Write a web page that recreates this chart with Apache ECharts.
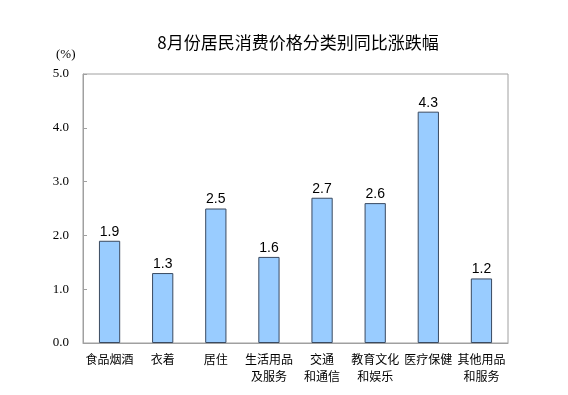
<!DOCTYPE html>
<html><head><meta charset="utf-8">
<script src="https://cdn.jsdelivr.net/npm/echarts@6/dist/echarts.min.js"></script>
<style>html,body{margin:0;padding:0;background:#fff}#c{width:568px;height:395px}</style>
</head><body><div id="c"></div>
<script>
var categories = ['食品烟酒','衣着','居住','生活用品\n及服务','交通\n和通信','教育文化\n和娱乐','医疗保健','其他用品\n和服务'];
var values = [1.9, 1.3, 2.5, 1.6, 2.7, 2.6, 4.3, 1.2];
var yTicks = [0, 1, 2, 3, 4, 5];
var chart = echarts.init(document.getElementById('c'), null, {renderer:'canvas'});
chart.setOption({
  animation:false,
  title:{text:'8月份居民消费价格分类别同比涨跌幅', left:293, top:29, textAlign:'center',
    textStyle:{fontSize:17, fontWeight:'normal', color:'#000', fontFamily:'"Noto Sans CJK SC", sans-serif'}},
  graphic:[{type:'text', left:56, top:48, style:{text:'(%)', font:'13px "Liberation Serif", serif', fill:'#000'}}],
  grid:{left:83, right:60, top:74, bottom:52, show:true, borderColor:'#a0a0a0', borderWidth:1, backgroundColor:'transparent'},
  xAxis:{type:'category', data:categories,
    axisLine:{show:true, lineStyle:{color:'#a0a0a0'}}, axisTick:{show:false},
    axisLabel:{interval:0, color:'#000', fontSize:12, lineHeight:17, margin:8, fontFamily:'"Noto Sans CJK SC", sans-serif'}},
  yAxis:{type:'value', min:yTicks[0], max:yTicks[yTicks.length-1], interval:1,
    splitLine:{show:false},
    axisLine:{show:true, lineStyle:{color:'#a0a0a0'}},
    axisTick:{show:true, inside:true, length:4, lineStyle:{color:'#a0a0a0'}},
    axisLabel:{color:'#000', fontSize:13, margin:14, fontFamily:'"Liberation Serif", serif',
      formatter:function(v){return v.toFixed(1);}}},
  series:[{type:'bar', data:values, barWidth:'40%',
    itemStyle:{color:'#99CCFF', borderColor:'#3a4a60', borderWidth:1},
    label:{show:true, position:'top', distance:2, color:'#000', fontSize:14, fontFamily:'"Liberation Sans", Arial, sans-serif',
      formatter:function(p){return p.value.toFixed(1);}}}]
});
</script></body></html>
